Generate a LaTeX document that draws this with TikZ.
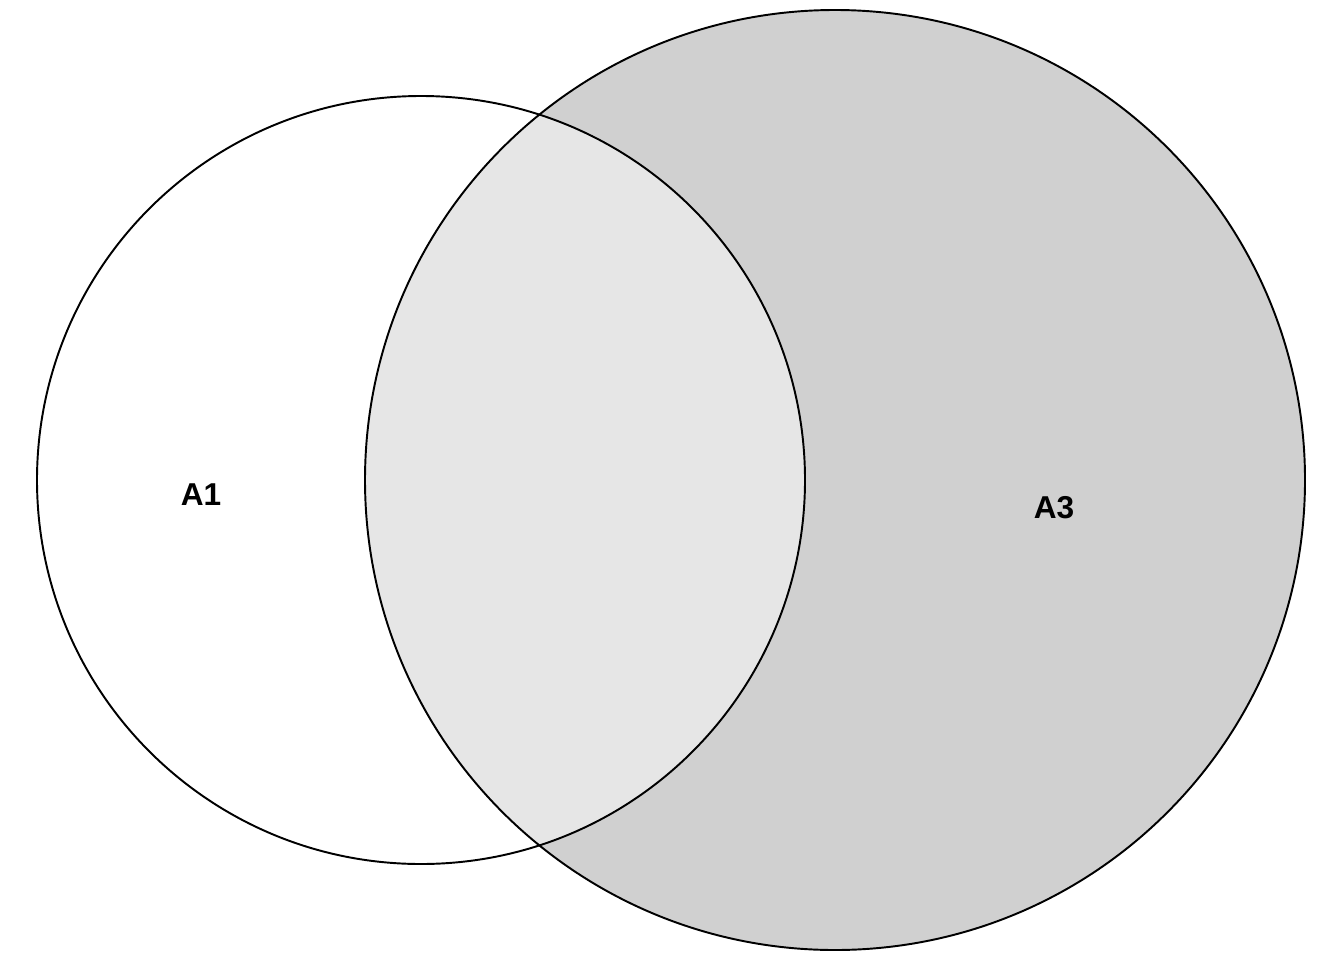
\documentclass[tikz,border=0pt]{standalone}
\usepackage{fontspec}
\setsansfont{Liberation Sans}
\usetikzlibrary{positioning}
\definecolor{setgray}{HTML}{D0D0D0}
\definecolor{overlapgray}{HTML}{E6E6E6}
\tikzset{
  setline/.style={draw=black, line width=1.1pt},
  setlabel/.style={font=\sffamily\bfseries\fontsize{18}{21}\selectfont, inner sep=0pt}
}

\begin{document}
\begin{tikzpicture}[x=0.02cm, y=-0.02cm]
  \useasboundingbox (0,0) rectangle (1344,960);

  % centres of the two sets
  \coordinate (cA1) at (421,480);
  \coordinate (cA3) at (835,480);

  % shaded set A3 and the lighter overlap
  \fill[setgray] (cA3) circle[radius=470];
  \begin{scope}
    \clip (cA1) circle[radius=384];
    \fill[overlapgray] (cA3) circle[radius=470];
  \end{scope}

  % outlines
  \draw[setline] (cA1) circle[radius=384];
  \draw[setline] (cA3) circle[radius=470];

  % labels
  \node[setlabel] (lA1) at (201,495) {A1};
  \node[setlabel] (lA3) at (1054,508) {A3};
\end{tikzpicture}
\end{document}
